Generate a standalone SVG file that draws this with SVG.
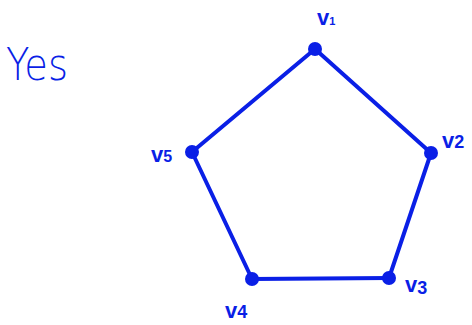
<svg xmlns="http://www.w3.org/2000/svg" width="472" height="325" viewBox="0 0 472 325">
<style>
.e{stroke:#0a1fe6;stroke-width:4;fill:none;stroke-linecap:round}
.n{fill:#0a1fe6}
.t{fill:#0a1fe6;font-family:"Liberation Sans",sans-serif;font-weight:bold}
</style>
<rect width="472" height="325" fill="#fff"/>
<text x="6" y="80" font-size="44" fill="#0a1fe6" font-family="'DejaVu Sans',sans-serif" font-weight="300" textLength="62" lengthAdjust="spacingAndGlyphs">Yes</text>
<g id="edges">
<path class="e" d="M315,49 L431,153"/>
<path class="e" d="M431,153 L389,278"/>
<path class="e" d="M389,278 L252,279"/>
<path class="e" d="M252,279 L192,152"/>
<path class="e" d="M192,152 L315,49"/>
</g>
<g id="v1"><circle class="n" cx="315" cy="49" r="7"/><text class="t" x="317" y="25" font-size="22">v<tspan font-size="11">1</tspan></text></g>
<g id="v2"><circle class="n" cx="431" cy="153" r="7"/><text class="t" x="442" y="148" font-size="22">v<tspan font-size="18">2</tspan></text></g>
<g id="v3"><circle class="n" cx="389" cy="278" r="7"/><text class="t" x="405" y="292" font-size="22">v<tspan font-size="18" dy="2">3</tspan></text></g>
<g id="v4"><circle class="n" cx="252" cy="279" r="7"/><text class="t" x="225" y="318" font-size="22">v<tspan font-size="18">4</tspan></text></g>
<g id="v5"><circle class="n" cx="192" cy="152" r="5" fill="none" stroke="#0a1fe6" stroke-width="4"/><text class="t" x="151" y="162" font-size="22">v<tspan font-size="16">5</tspan></text></g>
</svg>
